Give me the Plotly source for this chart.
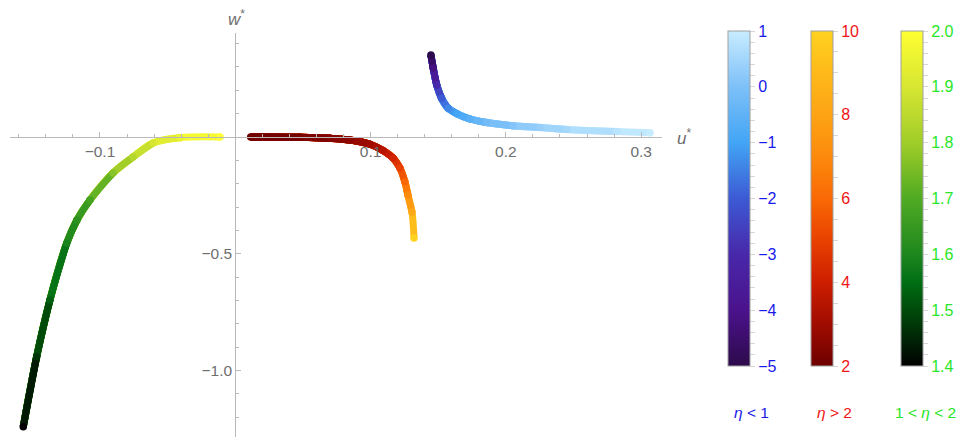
import numpy as np
import plotly.graph_objects as go

# ---------------- data ----------------
# eta < 1 branch (blue)
blue_u = [0.1446, 0.1463, 0.1489, 0.1525, 0.1574, 0.1636, 0.1735, 0.1858, 0.2052, 0.2252, 0.2449, 0.2819, 0.3065]
blue_w = [0.3513, 0.2956, 0.2228, 0.1658, 0.1230, 0.1007, 0.0771, 0.0621, 0.0484, 0.0407, 0.0321, 0.0236, 0.0184]
blue_eta = [-5.0, -4.2, -3.0, -2.0, -1.4, -1.0, -0.6, -0.2, 0.1, 0.35, 0.55, 0.8, 1.0]

# eta > 2 branch (red)
red_u = [0.0114, 0.0478, 0.0700, 0.0848, 0.0996, 0.1092, 0.1166, 0.1217, 0.1254, 0.1276, 0.1306, 0.1321]
red_w = [0.0, -0.0013, -0.0056, -0.0129, -0.0310, -0.0580, -0.0900, -0.1328, -0.1928, -0.2485, -0.3213, -0.4327]
red_eta = [2.0, 2.2, 2.4, 2.6, 3.0, 3.5, 4.2, 5.0, 6.0, 7.0, 8.3, 10.0]

# 1 < eta < 2 branch (green)
green_u = [-0.1567, -0.1468, -0.1370, -0.1246, -0.1170, -0.1074, -0.0904, -0.0756, -0.0608, -0.0409, -0.0113]
green_w = [-1.2412, -0.9413, -0.6984, -0.4554, -0.3556, -0.2699, -0.1542, -0.0857, -0.0257, -0.0030, 0.0]
green_eta = [1.4, 1.47, 1.53, 1.59, 1.63, 1.68, 1.77, 1.84, 1.9, 1.95, 2.0]

# axis ticks
x_tick_vals = [-0.1, 0.1, 0.2, 0.3]
x_tick_text = ["\u22120.1", "0.1", "0.2", "0.3"]
y_tick_vals = [-1.0, -0.5]
y_tick_text = ["\u22121.0", "\u22120.5"]

# colour-bar labels
blue_cb_labels = [-5, -4, -3, -2, -1, 0, 1]
red_cb_labels = [2, 4, 6, 8, 10]
green_cb_labels = [1.4, 1.5, 1.6, 1.7, 1.8, 1.9, 2.0]

# ---------------- styles ----------------
blue_stops = [(-5, (45, 10, 75)), (-4, (75, 18, 140)), (-3, (72, 40, 170)), (-2, (60, 90, 212)),
              (-1, (66, 165, 245)), (0, (125, 192, 248)), (1, (200, 236, 255))]
red_stops = [(2, (110, 0, 0)), (3, (160, 12, 0)), (4, (205, 30, 0)), (5, (232, 65, 0)),
             (6, (250, 105, 5)), (7, (252, 138, 12)), (8, (253, 163, 20)), (9, (254, 185, 25)),
             (10, (255, 210, 32))]
green_stops = [(1.4, (0, 0, 0)), (1.5, (0, 75, 10)), (1.55, (0, 110, 20)), (1.6, (30, 135, 30)),
               (1.7, (80, 170, 35)), (1.8, (160, 205, 40)), (1.9, (215, 230, 50)), (2.0, (255, 255, 50))]


def to_scale(stops):
    lo, hi = stops[0][0], stops[-1][0]
    return [[(v - lo) / (hi - lo), "rgb(%d,%d,%d)" % c] for v, c in stops]


def color_at(stops, v):
    vals = [s[0] for s in stops]
    v = min(max(v, vals[0]), vals[-1])
    for i in range(len(stops) - 1):
        a, ca = stops[i]
        b, cb = stops[i + 1]
        if a <= v <= b:
            t = (v - a) / (b - a) if b > a else 0
            c = [ca[k] + t * (cb[k] - ca[k]) for k in range(3)]
            return "rgb(%d,%d,%d)" % tuple(round(x) for x in c)
    return "rgb(%d,%d,%d)" % stops[-1][1]


# body margin is removed by the post script, so the figure fills the window
OFF = 0
W, H = 962 - OFF, 441 - OFF


def PX(px):
    return (px - OFF) / W


def PY(py):
    return (H - (py - OFF)) / H


x_range = [-0.1665, 0.3154]
y_range = [-1.285, 0.4456]
x_dom = [PX(10), PX(662)]
y_dom = [PY(437), PY(33)]
x_axis_pos = y_dom[0] + (0 - y_range[0]) / (y_range[1] - y_range[0]) * (y_dom[1] - y_dom[0])
y_axis_pos = x_dom[0] + (0 - x_range[0]) / (x_range[1] - x_range[0]) * (x_dom[1] - x_dom[0])

LW = 7
axis_col = "rgb(185,185,185)"
label_col = "rgb(110,110,110)"
FONT = "Liberation Sans, Arial, sans-serif"

fig = go.Figure()


def add_curve(u, w, eta, stops, cb_px, cb_labels, fmt, step, tick_col):
    n = len(u)
    # smooth gradient: draw spline prefixes from longest to shortest,
    # each one coloured for its last segment
    for k in range(n - 2, -1, -1):
        fig.add_trace(go.Scatter(
            x=u[:k + 2], y=w[:k + 2], mode="lines",
            line=dict(color=color_at(stops, 0.5 * (eta[k] + eta[k + 1])), width=LW, shape="spline"),
            showlegend=False, hoverinfo="skip"))
    lo, hi = stops[0][0], stops[-1][0]
    m = int(round((hi - lo) / step))
    tv = [round(lo + k * step, 4) for k in range(m + 1)]
    tt = []
    for v in tv:
        match = [l for l in cb_labels if abs(l - v) < 1e-6]
        tt.append(fmt(match[0]).replace("-", "\u2212") if match else "")
    fig.add_trace(go.Scatter(
        x=u, y=w, mode="markers",
        marker=dict(size=LW + 0.5, color=eta, colorscale=to_scale(stops), cmin=lo, cmax=hi,
                    line=dict(width=0),
                    showscale=True,
                    colorbar=dict(x=PX(cb_px), xanchor="left", xpad=0, ypad=0,
                                  y=PY(31), yanchor="top", len=335, lenmode="pixels",
                                  thickness=22, thicknessmode="pixels",
                                  outlinewidth=1, outlinecolor="rgb(160,160,160)",
                                  tickmode="array", tickvals=tv, ticktext=tt,
                                  ticks="outside", ticklen=5, tickwidth=1,
                                  tickcolor="rgb(215,215,215)",
                                  tickfont=dict(family=FONT, size=16, color=tick_col))),
        showlegend=False, hoverinfo="skip"))


add_curve(blue_u, blue_w, blue_eta, blue_stops, 728, blue_cb_labels,
          lambda v: "%d" % v, 0.2, "rgb(25,25,235)")
add_curve(red_u, red_w, red_eta, red_stops, 811, red_cb_labels,
          lambda v: "%d" % v, 0.5, "rgb(240,20,20)")
add_curve(green_u, green_w, green_eta, green_stops, 901, green_cb_labels,
          lambda v: "%.1f" % v, 0.02, "rgb(40,230,40)")

x_minor = [round(v, 3) for v in np.arange(-0.16, 0.3001, 0.02) if abs(v) > 1e-9]
y_minor = [round(v, 2) for v in np.arange(-1.2, 0.4001, 0.1) if abs(v) > 1e-9]

fig.update_layout(
    width=W, height=H,
    margin=dict(l=0, r=0, t=0, b=0),
    paper_bgcolor="white", plot_bgcolor="white",
    font=dict(family=FONT, size=15, color=label_col),
    xaxis=dict(domain=x_dom, range=x_range, anchor="free", position=x_axis_pos,
               showgrid=False, zeroline=False, showline=True, linecolor=axis_col, linewidth=1,
               tickmode="array", tickvals=x_tick_vals, ticktext=x_tick_text,
               ticks="inside", ticklen=5, tickcolor=axis_col, tickwidth=1,
               tickfont=dict(family=FONT, size=15.5, color=label_col),
               minor=dict(tickmode="array", tickvals=x_minor, ticks="inside", ticklen=3,
                          tickcolor=axis_col, tickwidth=1, showgrid=False)),
    yaxis=dict(domain=y_dom, range=y_range, anchor="free", position=y_axis_pos,
               showgrid=False, zeroline=False, showline=True, linecolor=axis_col, linewidth=1,
               tickmode="array", tickvals=y_tick_vals, ticktext=y_tick_text,
               ticks="inside", ticklen=5, tickcolor=axis_col, tickwidth=1,
               tickfont=dict(family=FONT, size=15.5, color=label_col),
               minor=dict(tickmode="array", tickvals=y_minor, ticks="inside", ticklen=3,
                          tickcolor=axis_col, tickwidth=1, showgrid=False)),
)

annots = [
    dict(text="<i>w</i><sup>*</sup>", x=PX(236), y=PY(18), xanchor="center", yanchor="middle",
         font=dict(family=FONT, size=17, color=label_col)),
    dict(text="<i>u</i><sup>*</sup>", x=PX(675), y=PY(137), xanchor="left", yanchor="middle",
         font=dict(family=FONT, size=17, color=label_col)),
    dict(text="<i>\u03b7</i> &lt; 1", x=PX(751), y=PY(412), xanchor="center", yanchor="middle",
         font=dict(family=FONT, size=15.5, color="rgb(25,25,235)")),
    dict(text="<i>\u03b7</i> &gt; 2", x=PX(834), y=PY(412), xanchor="center", yanchor="middle",
         font=dict(family=FONT, size=15.5, color="rgb(240,20,20)")),
    dict(text="1 &lt; <i>\u03b7</i> &lt; 2", x=PX(925), y=PY(412), xanchor="center", yanchor="middle",
         font=dict(family=FONT, size=15.5, color="rgb(40,230,40)")),
]
for a in annots:
    fig.add_annotation(xref="paper", yref="paper", showarrow=False, **a)

fig.write_html("out.html", config={"displayModeBar": False},
               post_script="document.body.style.margin='0';document.body.style.overflow='hidden';")
